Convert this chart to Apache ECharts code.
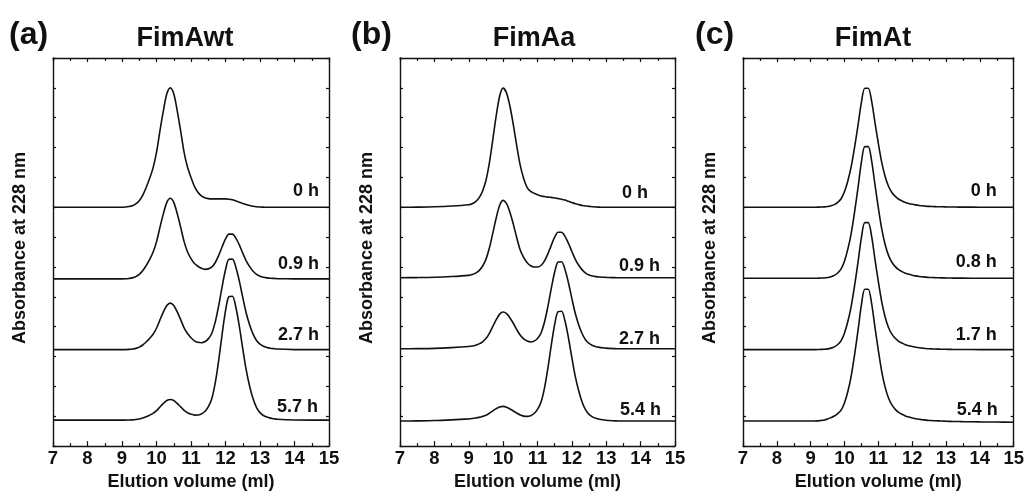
<!DOCTYPE html>
<html>
<head>
<meta charset="utf-8">
<script src="https://cdn.jsdelivr.net/npm/echarts@6/dist/echarts.min.js"></script>
<style>
html,body{margin:0;padding:0;background:#fff;}
#chart{width:1027px;height:496px;}
</style>
</head>
<body>
<div id="chart"></div>
<script>
// Elution volume sample points (ml)
const volumes = [7, 7.5, 8, 8.5,
  9.0, 9.1, 9.2, 9.3, 9.4, 9.5, 9.6, 9.7, 9.8, 9.9,
  10.0, 10.1, 10.2, 10.3, 10.4, 10.5, 10.6, 10.7, 10.8, 10.9,
  11.0, 11.1, 11.2, 11.3, 11.4, 11.5, 11.6, 11.7, 11.8, 11.9,
  12.0, 12.1, 12.2, 12.3, 12.4, 12.5, 12.6, 12.7, 12.8, 12.9,
  13.0, 13.1, 13.2, 13.3, 13.4, 13.5, 14, 14.5, 15];

const xTicks = [7, 8, 9, 10, 11, 12, 13, 14, 15];

// (a) FimAwt traces (stacked absorbance, arbitrary units)
const fimAwt_0h = [8.0, 8.0, 8.0, 8.0,
  8.0, 8.008, 8.024, 8.052, 8.112, 8.22, 8.40, 8.66, 8.96, 9.32,
  9.84, 10.56, 11.24, 11.80, 12.0, 11.80, 11.24, 10.56, 9.84, 9.34,
  9.00, 8.70, 8.50, 8.38, 8.32, 8.29, 8.28, 8.28, 8.28, 8.28,
  8.28, 8.27, 8.25, 8.21, 8.17, 8.13, 8.09, 8.06, 8.035, 8.02,
  8.01, 8.005, 8.0, 8.0, 8.0, 8.0, 8.0, 8.0, 8.0];
const fimAwt_09h = [5.6, 5.6, 5.6, 5.6,
  5.6, 5.605, 5.616, 5.635, 5.676, 5.749, 5.87, 6.046, 6.248, 6.491,
  6.842, 7.328, 7.787, 8.165, 8.30, 8.165, 7.789, 7.333, 6.85, 6.503,
  6.28, 6.115, 6.024, 5.954, 5.921, 5.936, 5.993, 6.141, 6.378, 6.667,
  6.94, 7.10, 7.102, 6.968, 6.74, 6.466, 6.208, 6.01, 5.858, 5.752,
  5.691, 5.656, 5.636, 5.624, 5.617, 5.611, 5.602, 5.6, 5.6];
const fimAwt_27h = [3.23, 3.23, 3.23, 3.23,
  3.23, 3.233, 3.239, 3.25, 3.274, 3.316, 3.386, 3.487, 3.604, 3.745,
  3.948, 4.228, 4.494, 4.712, 4.79, 4.712, 4.497, 4.237, 3.963, 3.77,
  3.629, 3.527, 3.477, 3.464, 3.495, 3.592, 3.773, 4.143, 4.687, 5.326,
  5.906, 6.256, 6.263, 5.993, 5.533, 4.98, 4.458, 4.059, 3.752, 3.537,
  3.414, 3.344, 3.304, 3.279, 3.264, 3.251, 3.233, 3.23, 3.23];
const fimAwt_57h = [0.87, 0.87, 0.87, 0.87,
  0.87, 0.871, 0.874, 0.879, 0.889, 0.908, 0.939, 0.984, 1.036, 1.098,
  1.187, 1.312, 1.429, 1.526, 1.56, 1.526, 1.429, 1.316, 1.20, 1.119,
  1.07, 1.039, 1.041, 1.078, 1.158, 1.314, 1.579, 2.098, 2.85, 3.729,
  4.526, 5.008, 5.02, 4.65, 4.02, 3.264, 2.55, 2.004, 1.584, 1.29,
  1.122, 1.025, 0.971, 0.937, 0.916, 0.899, 0.874, 0.87, 0.87];
const fimAwtTimes = ['0 h', '0.9 h', '2.7 h', '5.7 h'];

// (b) FimAa traces
const fimAa_0h = [8.0, 8.005, 8.015, 8.04,
  8.086, 8.119, 8.188, 8.315, 8.539, 8.895, 9.485, 10.265, 11.074, 11.727,
  11.99, 11.824, 11.375, 10.741, 10.029, 9.395, 8.956, 8.66, 8.53, 8.47,
  8.42, 8.38, 8.36, 8.34, 8.33, 8.31, 8.29, 8.27, 8.24, 8.20,
  8.16, 8.12, 8.09, 8.06, 8.04, 8.03, 8.02, 8.01, 8.005, 8.0,
  8.0, 8.0, 8.0, 8.0, 8.0, 8.0, 8.0, 8.0, 8.0];
const fimAa_09h = [5.64, 5.645, 5.655, 5.68,
  5.72, 5.745, 5.793, 5.878, 6.025, 6.255, 6.635, 7.135, 7.65, 8.065,
  8.23, 8.12, 7.827, 7.42, 6.963, 6.557, 6.31, 6.144, 6.04, 5.997,
  5.999, 6.049, 6.194, 6.434, 6.725, 7.0, 7.162, 7.162, 7.026, 6.795,
  6.518, 6.256, 6.056, 5.902, 5.794, 5.732, 5.697, 5.677, 5.665, 5.657,
  5.651, 5.646, 5.643, 5.641, 5.64, 5.64, 5.64, 5.64, 5.64];
const fimAa_27h = [3.26, 3.265, 3.275, 3.30,
  3.335, 3.351, 3.379, 3.423, 3.495, 3.603, 3.779, 4.007, 4.236, 4.42,
  4.49, 4.434, 4.292, 4.106, 3.896, 3.713, 3.592, 3.517, 3.489, 3.517,
  3.607, 3.781, 4.138, 4.661, 5.274, 5.832, 6.168, 6.175, 5.915, 5.473,
  4.942, 4.44, 4.057, 3.762, 3.555, 3.437, 3.369, 3.331, 3.307, 3.292,
  3.281, 3.272, 3.266, 3.263, 3.26, 3.26, 3.26, 3.26, 3.26];
const fimAa_54h = [0.84, 0.845, 0.855, 0.88,
  0.912, 0.924, 0.94, 0.962, 0.994, 1.035, 1.10, 1.18, 1.254, 1.312,
  1.33, 1.304, 1.244, 1.177, 1.103, 1.04, 1.004, 0.996, 1.02, 1.091,
  1.23, 1.466, 1.927, 2.593, 3.373, 4.078, 4.505, 4.515, 4.188, 3.63,
  2.96, 2.328, 1.844, 1.472, 1.212, 1.063, 0.978, 0.929, 0.90, 0.881,
  0.866, 0.855, 0.847, 0.844, 0.84, 0.84, 0.84, 0.84, 0.84];
const fimAaTimes = ['0 h', '0.9 h', '2.7 h', '5.4 h'];

// (c) FimAt traces
const fimAt_0h = [8.0, 8.0, 8.0, 8.0,
  8.0, 8.0, 8.004, 8.008, 8.012, 8.024, 8.049, 8.089, 8.162, 8.284,
  8.527, 8.891, 9.377, 10.025, 10.754, 11.524, 11.989, 11.989, 11.564, 10.835,
  10.136, 9.503, 9.032, 8.703, 8.495, 8.363, 8.27, 8.213, 8.163, 8.129,
  8.102, 8.08, 8.062, 8.05, 8.039, 8.03, 8.025, 8.021, 8.018, 8.015,
  8.012, 8.01, 8.008, 8.007, 8.006, 8.005, 8.002, 8.0, 8.0];
const fimAt_08h = [5.62, 5.62, 5.62, 5.62,
  5.62, 5.62, 5.624, 5.629, 5.633, 5.647, 5.674, 5.719, 5.799, 5.934,
  6.202, 6.606, 7.143, 7.86, 8.666, 9.518, 10.033, 10.033, 9.562, 8.756,
  7.98, 7.278, 6.755, 6.389, 6.158, 6.011, 5.908, 5.845, 5.791, 5.754,
  5.726, 5.702, 5.683, 5.671, 5.659, 5.65, 5.645, 5.641, 5.638, 5.635,
  5.632, 5.63, 5.628, 5.627, 5.626, 5.625, 5.622, 5.62, 5.62];
const fimAt_17h = [3.23, 3.23, 3.23, 3.23,
  3.23, 3.23, 3.234, 3.239, 3.243, 3.256, 3.282, 3.325, 3.403, 3.532,
  3.792, 4.18, 4.699, 5.39, 6.168, 6.988, 7.485, 7.485, 7.032, 6.254,
  5.506, 4.83, 4.327, 3.975, 3.752, 3.611, 3.511, 3.451, 3.398, 3.362,
  3.335, 3.312, 3.293, 3.281, 3.269, 3.26, 3.255, 3.251, 3.248, 3.245,
  3.242, 3.24, 3.238, 3.237, 3.236, 3.235, 3.232, 3.23, 3.23];
const fimAt_54h = [0.84, 0.84, 0.84, 0.84,
  0.84, 0.84, 0.844, 0.859, 0.873, 0.907, 0.954, 1.009, 1.089, 1.204,
  1.452, 1.836, 2.363, 3.08, 3.886, 4.738, 5.253, 5.253, 4.782, 3.976,
  3.20, 2.498, 1.975, 1.609, 1.378, 1.231, 1.128, 1.065, 1.011, 0.974,
  0.941, 0.917, 0.897, 0.884, 0.871, 0.86, 0.854, 0.849, 0.844, 0.84,
  0.832, 0.829, 0.826, 0.824, 0.822, 0.82, 0.812, 0.805, 0.80];
const fimAtTimes = ['0 h', '0.8 h', '1.7 h', '5.4 h'];

const panelLetters = ['(a)', '(b)', '(c)'];
const panelNames = ['FimAwt', 'FimAa', 'FimAt'];
const xAxisTitle = 'Elution volume (ml)';
const yAxisTitle = 'Absorbance at 228 nm';

// ---- layout / style (not data) ----
const FONT = '"Liberation Sans", Arial, Helvetica, sans-serif';
const INK = '#111';
const grids = [
  {left: 53, top: 58, width: 276, height: 394},
  {left: 400, top: 58, width: 275, height: 394},
  {left: 743, top: 58, width: 275, height: 394}
];
const letterLeft = [4, 346, 690];
const nameCenter = [180, 529, 868];
const labelOffsets = [
  [[-10, -16], [-10, -15], [-10, -15], [-11, -13]],
  [[-27, -14], [-15, -12], [-15, -10], [-14, -11]],
  [[-17, -16], [-17, -16], [-17, -15], [-16, -12]]
];

const panels = [
  {traces: [fimAwt_0h, fimAwt_09h, fimAwt_27h, fimAwt_57h], times: fimAwtTimes},
  {traces: [fimAa_0h, fimAa_09h, fimAa_27h, fimAa_54h], times: fimAaTimes},
  {traces: [fimAt_0h, fimAt_08h, fimAt_17h, fimAt_54h], times: fimAtTimes}
];

const axisLine = {show: true, onZero: false, lineStyle: {color: INK, width: 1.4}};
const xAxis = [], yAxis = [], series = [], title = [];

panels.forEach((p, g) => {
  // bottom x axis
  xAxis.push({
    gridIndex: g, type: 'value', position: 'bottom', min: 7, max: 15, interval: 1,
    axisLine, splitLine: {show: false},
    axisTick: {show: true, inside: true, length: 5, lineStyle: {color: INK, width: 1.2}},
    minorTick: {show: true, splitNumber: 2, length: 3, lineStyle: {color: INK, width: 1.2}},
    axisLabel: {show: true, margin: 3, color: INK, fontFamily: FONT, fontWeight: 'bold', fontSize: 18.5,
      formatter: v => (xTicks.indexOf(v) >= 0 ? String(v) : '')},
    name: xAxisTitle, nameLocation: 'middle', nameGap: 26,
    nameTextStyle: {color: INK, fontFamily: FONT, fontWeight: 'bold', fontSize: 18}
  });
  // top x axis (frame)
  xAxis.push({
    gridIndex: g, type: 'value', position: 'top', min: 7, max: 15, interval: 1,
    axisLine, splitLine: {show: false},
    axisTick: {show: true, inside: true, length: 4, lineStyle: {color: INK, width: 1.2}},
    minorTick: {show: true, splitNumber: 2, length: 3, lineStyle: {color: INK, width: 1.2}},
    axisLabel: {show: false}
  });
  yAxis.push({
    gridIndex: g, type: 'value', position: 'left', min: 0, max: 13, interval: 1,
    axisLine, splitLine: {show: false},
    axisTick: {show: true, inside: true, length: 3, lineStyle: {color: INK, width: 1.2}},
    axisLabel: {show: false},
    name: yAxisTitle, nameLocation: 'middle', nameGap: 24,
    nameTextStyle: {color: INK, fontFamily: FONT, fontWeight: 'bold', fontSize: 18, padding: [0, 0, 0, 8]}
  });
  yAxis.push({
    gridIndex: g, type: 'value', position: 'right', min: 0, max: 13, interval: 1,
    axisLine, splitLine: {show: false},
    axisTick: {show: true, inside: true, length: 3, lineStyle: {color: INK, width: 1.2}},
    axisLabel: {show: false}
  });
  p.traces.forEach((tr, k) => {
    series.push({
      type: 'line', xAxisIndex: 2 * g, yAxisIndex: 2 * g,
      data: volumes.map((v, i) => [v, tr[i]]),
      showSymbol: false, symbol: 'none', smooth: 0.3,
      lineStyle: {color: INK, width: 1.6}, silent: true, animation: false,
      endLabel: {show: true, formatter: p.times[k], align: 'right', verticalAlign: 'middle',
        distance: 0, offset: labelOffsets[g][k], color: INK, fontFamily: FONT, fontWeight: 'bold', fontSize: 18}
    });
  });
  title.push({text: panelLetters[g], left: letterLeft[g], top: 14,
    textStyle: {color: INK, fontFamily: FONT, fontWeight: 'bold', fontSize: 32}});
  title.push({text: panelNames[g], left: nameCenter[g], top: 20, textAlign: 'center',
    textStyle: {color: INK, fontFamily: FONT, fontWeight: 'bold', fontSize: 27}});
});

const chart = echarts.init(document.getElementById('chart'), null, {renderer: 'canvas'});
chart.setOption({
  backgroundColor: '#fff', animation: false,
  title, grid: grids, xAxis, yAxis, series
});
</script>
</body>
</html>
